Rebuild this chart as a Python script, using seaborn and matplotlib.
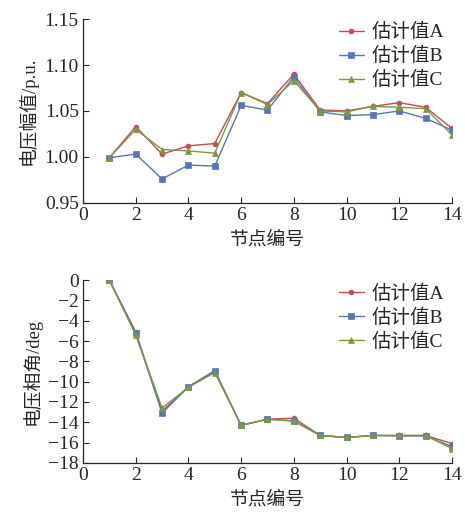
import numpy as np
import pandas as pd
import matplotlib
matplotlib.use("Agg")
import matplotlib.pyplot as plt
import seaborn as sns

nodes = list(range(1, 15))
series_names = ["估计值A", "估计值B", "估计值C"]

mag_a = [0.999, 1.033, 1.003, 1.012, 1.0145, 1.070, 1.058, 1.090, 1.051, 1.050, 1.055, 1.059, 1.054, 1.031]
mag_b = [0.999, 1.003, 0.976, 0.991, 0.990, 1.056, 1.051, 1.087, 1.049, 1.045, 1.046, 1.050, 1.042, 1.029]
mag_c = [0.999, 1.030, 1.008, 1.0065, 1.004, 1.070, 1.057, 1.083, 1.050, 1.049, 1.055, 1.054, 1.0525, 1.024]

ang_a = [0, -5.1, -12.9, -10.5, -9.0, -14.3, -13.7, -13.6, -15.3, -15.5, -15.3, -15.3, -15.3, -16.1]
ang_b = [0, -5.2, -13.1, -10.5, -8.9, -14.3, -13.7, -13.85, -15.3, -15.5, -15.3, -15.35, -15.35, -16.4]
ang_c = [0, -5.4, -12.6, -10.55, -9.1, -14.3, -13.7, -13.9, -15.3, -15.5, -15.3, -15.3, -15.3, -16.6]

mag_ticks = [0.95, 1.00, 1.05, 1.10, 1.15]
ang_ticks = list(range(-18, 1, 2))
x_ticks = list(range(0, 15, 2))

palette = {"估计值A": "#c44a50", "估计值B": "#5a74b6", "估计值C": "#7d9840"}
markers = {"估计值A": "o", "估计值B": "s", "估计值C": "^"}
msizes = {"估计值A": 3.5, "估计值B": 5, "估计值C": 4.5}


def long_form(a, b, c):
    rows = []
    for name, vals in zip(series_names, [a, b, c]):
        for n, v in zip(nodes, vals):
            rows.append({"node": n, "value": v, "series": name})
    return pd.DataFrame(rows)


sns.set_style("ticks")
plt.rcParams["font.family"] = ["Liberation Serif", "Noto Sans CJK SC"]
plt.rcParams["axes.unicode_minus"] = True

fig = plt.figure(figsize=(4.65, 5.16), dpi=100)
ax1 = fig.add_axes([0.1785, 0.607, 0.7935, 0.356])
ax2 = fig.add_axes([0.1785, 0.103, 0.7935, 0.354])


def draw(ax, df, ylabel, ylim, yticks, fmt):
    for name in series_names:
        sub = df[df["series"] == name]
        sns.lineplot(data=sub, x="node", y="value", ax=ax, color=palette[name],
                     marker=markers[name], markersize=msizes[name], markeredgewidth=0.5,
                     markeredgecolor=palette[name], linewidth=1.0, label=name)
    ax.set_xlim(0, 14)
    ax.set_ylim(*ylim)
    ax.set_xticks(x_ticks)
    ax.set_yticks(yticks)
    ax.set_yticklabels([fmt(t) for t in yticks])
    ax.tick_params(direction="in", labelsize=14, length=4, width=0.8, pad=3)
    ax.set_xlabel("节点编号", fontsize=13.5, labelpad=5)
    ax.set_ylabel(ylabel, fontsize=13.5, labelpad=5)
    for s in ["left", "bottom"]:
        ax.spines[s].set_linewidth(0.9)
    sns.despine(ax=ax)
    ax.legend(loc="upper right", frameon=False, fontsize=14, handlelength=1.3,
              handletextpad=0.4, labelspacing=0.3, borderaxespad=0.0,
              bbox_to_anchor=(1.0, 1.02))


draw(ax1, long_form(mag_a, mag_b, mag_c), "电压幅值/p.u.", (0.95, 1.15), mag_ticks,
     lambda t: f"{t:.2f}")
draw(ax2, long_form(ang_a, ang_b, ang_c), "电压相角/deg", (-18, 0), ang_ticks,
     lambda t: f"{t:d}".replace("-", "\u2212"))

fig.savefig("out.png", dpi=100)
